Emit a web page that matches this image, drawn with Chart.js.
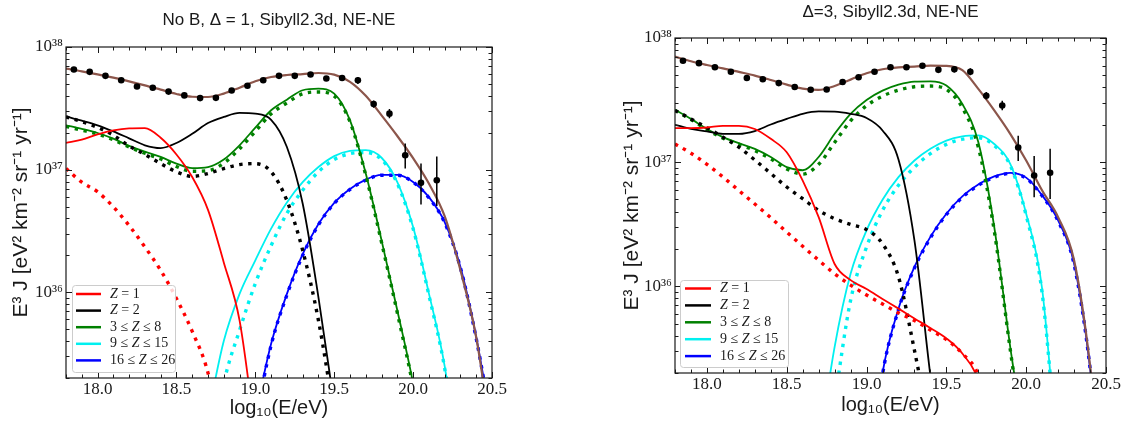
<!DOCTYPE html>
<html>
<head>
<meta charset="utf-8">
<script src="https://cdn.jsdelivr.net/npm/chart.js@4/dist/chart.umd.min.js"></script>
<style>
  body { margin: 0; background: #fff; }
  #wrap { position: relative; width: 1129px; height: 425px; overflow: hidden; }
  canvas { position: absolute; top: 0; }
</style>
</head>
<body>
<div id="wrap">
  <canvas id="leftChart" width="560" height="425" style="left:0"></canvas>
  <canvas id="rightChart" width="569" height="425" style="left:560px"></canvas>
</div>
<script>
// model energy grid, log10(E/eV)
const logE = [17.8, 17.9, 18.0, 18.1, 18.2, 18.3, 18.4, 18.5, 18.6, 18.7, 18.8, 18.9, 19.0, 19.1,
              19.2, 19.3, 19.4, 19.5, 19.6, 19.7, 19.8, 19.9, 20.0, 20.1, 20.2, 20.3, 20.4, 20.5];

// measured spectrum (E^3 J) with error bounds
const dataE = [17.85, 17.95, 18.05, 18.15, 18.25, 18.35, 18.45, 18.55, 18.65, 18.75, 18.85, 18.95,
               19.05, 19.15, 19.25, 19.35, 19.45, 19.55, 19.65, 19.75, 19.85, 19.95, 20.05, 20.15];
const dataFlux = [6.55e37, 6.27e37, 5.82e37, 5.35e37, 4.76e37, 4.65e37, 4.33e37, 4.03e37, 3.83e37, 3.85e37, 4.42e37, 4.83e37,
                  5.35e37, 5.82e37, 5.82e37, 5.97e37, 5.54e37, 5.59e37, 5.35e37, 3.43e37, 2.86e37, 1.31e37, 7.8e36, 8.2e36];
const dataLow = [6.4e37, 6.1e37, 5.7e37, 5.2e37, 4.6e37, 4.5e37, 4.2e37, 3.9e37, 3.7e37, 3.7e37, 4.3e37, 4.7e37,
                 5.2e37, 5.6e37, 5.6e37, 5.7e37, 5.3e37, 5.3e37, 5.0e37, 3.2e37, 2.62e37, 1.02e37, 5.2e36, 5.05e36];
const dataHigh = [6.7e37, 6.45e37, 6.0e37, 5.5e37, 4.9e37, 4.8e37, 4.45e37, 4.15e37, 3.95e37, 4.0e37, 4.55e37, 5.0e37,
                  5.5e37, 6.05e37, 6.05e37, 6.25e37, 5.8e37, 5.9e37, 5.7e37, 3.67e37, 3.12e37, 1.63e37, 1.12e37, 1.28e37];

// No B, delta = 1
const d1Total = [6.66e37, 6.33e37, 5.98e37, 5.62e37, 5.25e37, 4.87e37, 4.49e37, 4.14e37, 3.93e37, 3.91e37, 4.17e37, 4.66e37, 5.25e37, 5.69e37,
                 5.91e37, 6.02e37, 6.14e37, 5.95e37, 5.2e37, 4.0e37, 2.77e37, 1.88e37, 1.24e37, 7.7e36, 4.17e36, 1.51e36, 4.3e35, 6e34];
const d1Z1 = [1.65e37, 1.76e37, 1.94e37, 2.09e37, 2.17e37, 2.18e37, 1.82e37, 1.33e37, 8.7e36, 4.7e36, 1.75e36, 5.9e35, 7e34];
const d1Z1Dot = [1.02e37, 7.9e36, 6.6e36, 4.97e36, 3.5e36, 2.34e36, 1.51e36, 8.9e35, 4.8e35, 2.2e35, 5e34];
const d1Z2 = [2.72e37, 2.51e37, 2.30e37, 2.05e37, 1.80e37, 1.58e37, 1.50e37, 1.65e37, 1.96e37, 2.40e37, 2.69e37, 2.90e37, 2.86e37, 2.55e37,
              1.53e37, 5.3e36, 9.1e35, 1.2e35];
const d1Z2Dot = [2.69e37, 2.46e37, 2.21e37, 1.91e37, 1.56e37, 1.33e37, 1.12e37, 9.6e36, 8.8e36, 9.3e36, 1.02e37, 1.10e37, 1.12e37, 9.6e36,
                 5.6e36, 2.2e36, 5.9e35, 1.0e35];
const d1Cno = [2.30e37, 2.15e37, 1.99e37, 1.79e37, 1.56e37, 1.40e37, 1.27e37, 1.12e37, 1.03e37, 1.05e37, 1.21e37, 1.58e37, 2.20e37, 3.05e37,
               3.72e37, 4.44e37, 4.57e37, 4.17e37, 2.52e37, 9.3e36, 2.65e36, 7.1e35, 1.8e35, 3e34];
const d1CnoDot = [2.25e37, 2.10e37, 1.95e37, 1.75e37, 1.53e37, 1.36e37, 1.22e37, 1.06e37, 9.7e36, 9.8e36, 1.13e37, 1.48e37, 2.05e37, 2.85e37,
                  3.50e37, 4.15e37, 4.30e37, 3.98e37, 2.45e37, 9.0e36, 2.55e36, 6.8e35, 1.7e35, 3e34];
const d1Si = [null, null, null, null, null, null, null, null, null, 1.0e35, 4.0e35, 9.7e35, 1.82e36, 3.3e36,
              5.4e36, 7.9e36, 1.05e37, 1.29e37, 1.42e37, 1.44e37, 1.25e37, 7.9e36, 3.4e36, 9.8e35, 2.5e35, 3e34];
const d1SiDot = [null, null, null, null, null, null, null, null, null, 3e34, 1.8e35, 4.9e35, 1.18e36, 2.4e36,
                 4.4e36, 6.8e36, 9.6e36, 1.21e37, 1.35e37, 1.38e37, 1.21e37, 7.7e36, 3.3e36, 9.5e35, 2.4e35, 3e34];
const d1Fe = [null, null, null, null, null, null, null, null, null, null, null, null, 1e35, 3.8e35,
              9.7e35, 2.05e36, 3.6e36, 5.35e36, 6.95e36, 8.3e36, 9.06e36, 9.06e36, 7.94e36, 5.98e36, 3.74e36, 1.61e36, 4.3e35, 8e34];
const d1FeDot = [null, null, null, null, null, null, null, null, null, null, null, null, 9e34, 3.7e35,
                 9.5e35, 2.0e36, 3.55e36, 5.3e36, 6.9e36, 8.2e36, 9.0e36, 9.0e36, 7.9e36, 5.9e36, 3.7e36, 1.58e36, 4.2e35, 8e34];

// delta = 3
const d3Total = [7.08e37, 6.49e37, 6.06e37, 5.70e37, 5.33e37, 4.98e37, 4.59e37, 4.21e37, 3.91e37, 3.82e37, 4.11e37, 4.62e37, 5.2e37, 5.6e37,
                 5.8e37, 5.88e37, 5.99e37, 5.96e37, 5.5e37, 3.89e37, 2.61e37, 1.69e37, 1.03e37, 5.9e36, 3.6e36, 1.62e36, 2.3e35, 1e34];
const d3Z1 = [1.88e37, 1.88e37, 1.90e37, 1.96e37, 1.96e37, 1.85e37, 1.54e37, 1.20e37, 7.1e36, 3.6e36, 1.51e36, 1.12e36, 9.5e35, 7.9e35,
              6.6e35, 5.5e35, 4.6e35, 3.8e35, 2.87e35, 1.75e35, 5e34];
const d3Z1Dot = [1.40e37, 1.18e37, 9.6e36, 7.6e36, 5.9e36, 4.6e36, 3.57e36, 2.73e36, 2.1e36, 1.62e36, 1.26e36, 1.02e36, 8.5e35, 7.2e35,
                 6.1e35, 5.3e35, 4.43e35, 3.72e35, 2.87e35, 1.92e35, 6e34];
const d3Z2 = [2.0e37, 1.85e37, 1.77e37, 1.69e37, 1.69e37, 1.78e37, 2.01e37, 2.23e37, 2.45e37, 2.56e37, 2.55e37, 2.45e37, 2.27e37, 1.80e37,
              1.05e37, 2.34e36, 1.9e35, 2e34];
const d3Z2Dot = [2.61e37, 2.23e37, 1.89e37, 1.59e37, 1.32e37, 1.04e37, 8.1e36, 6.3e36, 5.07e36, 4.08e36, 3.5e36, 3.15e36, 2.86e36, 2.2e36,
                 1.19e36, 3.05e35, 6.5e34];
const d3Cno = [2.64e37, 2.23e37, 1.85e37, 1.59e37, 1.42e37, 1.28e37, 1.10e37, 9.1e36, 8.6e36, 1.10e37, 1.69e37, 2.45e37, 3.17e37, 3.77e37,
               4.21e37, 4.46e37, 4.48e37, 4.14e37, 2.94e37, 1.45e37, 3.0e36, 3.25e35, 4.8e34];
const d3CnoDot = [2.61e37, 2.2e37, 1.83e37, 1.56e37, 1.39e37, 1.24e37, 1.06e37, 8.8e36, 8.0e36, 9.6e36, 1.44e37, 2.15e37, 2.85e37, 3.4e37,
                  3.8e37, 4.05e37, 4.1e37, 3.85e37, 2.75e37, 1.32e37, 2.8e36, 3.1e35, 4e34];
const d3Si = [null, null, null, null, null, null, null, null, null, 4.8e34, 3.25e35, 1.26e36, 2.82e36, 4.98e36,
              7.57e36, 1.03e37, 1.28e37, 1.49e37, 1.61e37, 1.64e37, 1.40e37, 9.7e36, 3.84e36, 9.5e35, 3.5e34];
const d3SiDot = [null, null, null, null, null, null, null, null, null, null, 1.2e35, 7.7e35, 2.07e36, 4.08e36,
                 6.5e36, 9.1e36, 1.17e37, 1.39e37, 1.53e37, 1.57e37, 1.36e37, 9.4e36, 3.72e36, 8.8e35, 3.5e34];
const d3Fe = [null, null, null, null, null, null, null, null, null, null, null, null, 2e34, 2e35,
              6.6e35, 1.43e36, 2.5e36, 3.84e36, 5.3e36, 6.6e36, 7.67e36, 8.2e36, 7.5e36, 5.4e36, 3.4e36, 1.52e36, 2.2e35, 1e34];
const d3FeDot = [null, null, null, null, null, null, null, null, null, null, null, null, 2e34, 1.95e35,
                 6.5e35, 1.4e36, 2.45e36, 3.78e36, 5.2e36, 6.5e36, 7.55e36, 8.1e36, 7.4e36, 5.35e36, 3.35e36, 1.5e36, 2.2e35, 1e34];

const groupLabels = ['Z = 1', 'Z = 2', '3 ≤ Z ≤ 8', '9 ≤ Z ≤ 15', '16 ≤ Z ≤ 26'];
const groupColors = ['#ff0000', '#000000', '#008000', '#00f0f0', '#0000ff'];

// axis ticks
const xMajor = [18.0, 18.5, 19.0, 19.5, 20.0, 20.5];
const xTickLabels = ['18.0', '18.5', '19.0', '19.5', '20.0', '20.5'];
const yMajor = [1e36, 1e37, 1e38];
const yTickLabels = ['10³⁶', '10³⁷', '10³⁸'];

const SANS = '"Liberation Sans", Arial, sans-serif';
const SERIF = '"Liberation Serif", "DejaVu Serif", serif';
const INK = '#1a1a1a';

const xTickValues = [];
for (let k = 0; k <= 27; k++) xTickValues.push(Math.round((17.8 + k * 0.1) * 10) / 10);
const yTickValues = [];
for (let e = 35; e <= 37; e++) {
    for (let m = 1; m <= 9; m++) {
        if (m * Math.pow(10, e) >= 2e35) yTickValues.push(m * Math.pow(10, e));
    }
}
yTickValues.push(1e38);

const near = (a, b) => Math.abs(a - b) < 1e-6 * Math.max(1, Math.abs(b));

function curve(values) {
    return logE.map((e, i) => ({ x: e, y: values[i] })).filter(p => p.y != null);
}

function buildDatasets(total, solid, dotted) {
    const sets = [{
        data: dataE.map((e, i) => ({ x: e, y: dataFlux[i] })),
        showLine: false,
        pointRadius: 3.3,
        pointBackgroundColor: '#000',
        pointBorderWidth: 0
    }, {
        data: curve(total),
        borderColor: '#8c564b',
        borderWidth: 2.2,
        pointRadius: 0,
        cubicInterpolationMode: 'monotone',
        clip: 0
    }];
    solid.forEach((values, g) => {
        sets.push({
            data: curve(dotted[g]),
            borderColor: groupColors[g],
            borderWidth: 3.4,
            borderDash: [3.4, 5.6],
            borderCapStyle: 'butt',
            pointRadius: 0,
            cubicInterpolationMode: 'monotone',
            clip: 0
        });
        sets.push({
            data: curve(values),
            borderColor: groupColors[g],
            borderWidth: 1.8,
            pointRadius: 0,
            cubicInterpolationMode: 'monotone',
            clip: 0
        });
    });
    return sets;
}

// vertical error bars on the measured points
const errorBars = {
    id: 'errorBars',
    afterDatasetsDraw(chart) {
        const { ctx, scales: { x, y } } = chart;
        ctx.save();
        ctx.strokeStyle = '#000';
        ctx.lineWidth = 1.5;
        ctx.beginPath();
        dataE.forEach((e, i) => {
            const px = x.getPixelForValue(e);
            ctx.moveTo(px, y.getPixelForValue(dataLow[i]));
            ctx.lineTo(px, y.getPixelForValue(dataHigh[i]));
        });
        ctx.stroke();
        ctx.restore();
    }
};

// box frame with inward ticks on all four sides
const frameTicks = {
    id: 'frameTicks',
    afterDatasetsDraw(chart) {
        const { ctx, chartArea: a, scales: { x, y } } = chart;
        ctx.save();
        ctx.strokeStyle = INK;
        ctx.lineWidth = 1;
        ctx.beginPath();
        x.ticks.forEach(t => {
            const px = Math.round(x.getPixelForValue(t.value)) + 0.5;
            const len = xMajor.some(m => near(t.value, m)) ? 6 : 3.5;
            ctx.moveTo(px, a.bottom); ctx.lineTo(px, a.bottom - len);
            ctx.moveTo(px, a.top); ctx.lineTo(px, a.top + len);
        });
        y.ticks.forEach(t => {
            const py = Math.round(y.getPixelForValue(t.value)) + 0.5;
            const len = yMajor.some(m => near(t.value, m)) ? 6 : 3.5;
            ctx.moveTo(a.left, py); ctx.lineTo(a.left + len, py);
            ctx.moveTo(a.right, py); ctx.lineTo(a.right - len, py);
        });
        ctx.stroke();
        ctx.lineWidth = 1.2;
        ctx.strokeRect(a.left, a.top, a.right - a.left, a.bottom - a.top);
        ctx.restore();
    }
};

function drawMathLabel(ctx, label, x, y) {
    ctx.fillStyle = INK;
    ctx.textBaseline = 'middle';
    ctx.textAlign = 'left';
    label.split(/(Z)/).forEach(part => {
        ctx.font = (part === 'Z' ? 'italic ' : '') + '14px ' + SERIF;
        ctx.fillText(part, x, y);
        x += ctx.measureText(part).width;
    });
}

// legend in the lower left corner of the plot
const zLegend = {
    id: 'zLegend',
    afterDraw(chart, args, o) {
        const { ctx, chartArea: a } = chart;
        const left = a.left + o.dx;
        const top = a.bottom - o.dy - o.h;
        ctx.save();
        ctx.fillStyle = 'rgba(255,255,255,0.82)';
        ctx.strokeStyle = '#cccccc';
        ctx.lineWidth = 1;
        ctx.beginPath();
        ctx.roundRect(left + 0.5, top + 0.5, o.w, o.h, 3);
        ctx.fill();
        ctx.stroke();
        groupLabels.forEach((label, i) => {
            const cy = top + o.first + i * o.step;
            ctx.strokeStyle = groupColors[i];
            ctx.lineWidth = 2.5;
            ctx.beginPath();
            ctx.moveTo(left + o.handle[0], cy);
            ctx.lineTo(left + o.handle[1], cy);
            ctx.stroke();
            drawMathLabel(ctx, label, left + o.textX, cy);
        });
        ctx.restore();
    }
};

function drawPanel(p) {
    const canvas = document.getElementById(p.canvas);
    return new Chart(canvas, {
        type: 'line',
        data: { datasets: buildDatasets(p.total, p.solid, p.dotted) },
        options: {
            responsive: false,
            animation: false,
            events: [],
            devicePixelRatio: 1,
            layout: { padding: { left: 0, right: canvas.width - p.area.right, top: 0, bottom: 0 } },
            plugins: {
                legend: { display: false },
                tooltip: { enabled: false },
                title: {
                    display: true,
                    text: p.title,
                    fullSize: false,
                    color: INK,
                    font: { family: SANS, size: 17, weight: 'normal', lineHeight: 1.2 },
                    padding: { top: p.titleTop, bottom: p.area.top - p.titleTop - 20.4 }
                },
                zLegend: p.legend
            },
            scales: {
                x: {
                    type: 'linear',
                    min: 17.8,
                    max: 20.5,
                    afterBuildTicks: s => { s.ticks = xTickValues.map(v => ({ value: v })); },
                    afterFit: s => { s.height = canvas.height - p.area.bottom; },
                    grid: { display: false, drawTicks: false },
                    border: { display: false },
                    ticks: {
                        autoSkip: false,
                        maxRotation: 0,
                        padding: p.tickPad,
                        color: INK,
                        font: { family: SERIF, size: 17 },
                        callback: v => {
                            const i = xMajor.findIndex(m => near(v, m));
                            return i >= 0 ? xTickLabels[i] : '';
                        }
                    },
                    title: {
                        display: true,
                        text: 'log₁₀(E/eV)',
                        color: INK,
                        font: { family: SANS, size: 20 },
                        padding: { top: 0, bottom: p.xTitlePad }
                    }
                },
                y: {
                    type: 'logarithmic',
                    min: 2e35,
                    max: 1e38,
                    afterBuildTicks: s => { s.ticks = yTickValues.map(v => ({ value: v })); },
                    afterFit: s => { s.width = p.area.left; },
                    grid: { display: false, drawTicks: false },
                    border: { display: false },
                    ticks: {
                        autoSkip: false,
                        padding: 3,
                        color: INK,
                        font: { family: SERIF, size: 17 },
                        callback: v => {
                            const i = yMajor.findIndex(m => near(v, m));
                            return i >= 0 ? yTickLabels[i] : '';
                        }
                    },
                    title: {
                        display: true,
                        text: 'E³ J [eV² km⁻² sr⁻¹ yr⁻¹]',
                        color: INK,
                        font: { family: SANS, size: 21 },
                        padding: { top: p.yTitlePad, bottom: 0 }
                    }
                }
            }
        },
        plugins: [errorBars, frameTicks, zLegend]
    });
}

drawPanel({
    canvas: 'leftChart',
    title: 'No B, Δ = 1, Sibyll2.3d, NE-NE',
    total: d1Total,
    solid: [d1Z1, d1Z2, d1Cno, d1Si, d1Fe],
    dotted: [d1Z1Dot, d1Z2Dot, d1CnoDot, d1SiDot, d1FeDot],
    area: { left: 66, right: 492, top: 47, bottom: 378 },
    titleTop: 10.5,
    tickPad: 1,
    xTitlePad: 5,
    yTitlePad: 8.4,
    legend: { dx: 6, dy: 6, w: 103, h: 87, first: 9, step: 16.6, handle: [4, 29], textX: 38 }
});

drawPanel({
    canvas: 'rightChart',
    title: 'Δ=3, Sibyll2.3d, NE-NE',
    total: d3Total,
    solid: [d3Z1, d3Z2, d3Cno, d3Si, d3Fe],
    dotted: [d3Z1Dot, d3Z2Dot, d3CnoDot, d3SiDot, d3FeDot],
    area: { left: 115, right: 546, top: 38, bottom: 373 },
    titleTop: 2.5,
    tickPad: 1,
    xTitlePad: 8,
    yTitlePad: 59.4,
    legend: { dx: 5, dy: 6, w: 108, h: 87, first: 8.5, step: 16.9, handle: [5, 31], textX: 40 }
});
</script>
</body>
</html>
